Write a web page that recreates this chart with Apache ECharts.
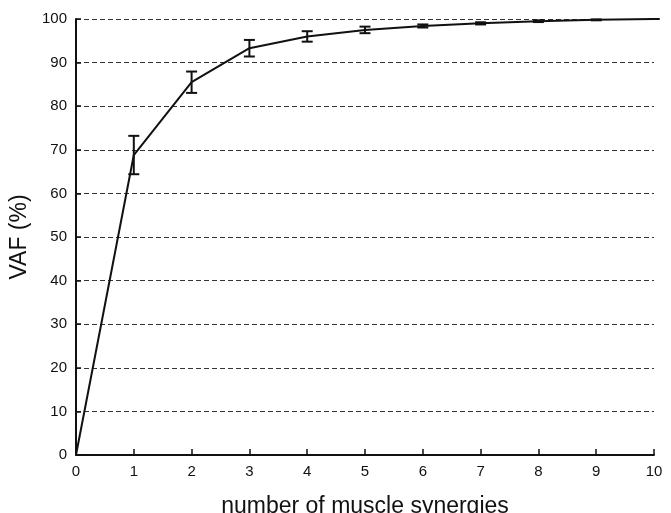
<!DOCTYPE html>
<html>
<head>
<meta charset="utf-8">
<script src="https://cdn.jsdelivr.net/npm/echarts@6/dist/echarts.min.js"></script>
<style>
  html, body { margin: 0; padding: 0; background: #fff; }
  #chart { width: 671px; height: 513px; }
</style>
</head>
<body>
<div id="chart"></div>
<script>
// Number of synergies vs. mean variance accounted for, with standard deviation
const synergies = [0, 1, 2, 3, 4, 5, 6, 7, 8, 9, 10];
const vafMean = [0, 68.8, 85.5, 93.3, 96.0, 97.5, 98.4, 99.0, 99.5, 99.8, 100];
const vafSd = [0, 4.4, 2.45, 1.9, 1.2, 0.75, 0.35, 0.25, 0.2, 0.1, 0];

const FONT = '"Liberation Sans", Arial, Helvetica, sans-serif';

const lineData = synergies.map((x, i) => [x, vafMean[i]]);
const errData = synergies.slice(1).map((x, k) => {
  const i = k + 1;
  return [x, vafMean[i] - vafSd[i], vafMean[i] + vafSd[i]];
});

const chart = echarts.init(document.getElementById('chart'), null, { renderer: 'canvas' });
chart.setOption({
  animation: false,
  backgroundColor: '#fff',
  grid: { left: 76, right: 17, top: 19, bottom: 58, containLabel: false, outerBoundsMode: 'none' },
  xAxis: {
    type: 'value', min: 0, max: 10, interval: 1,
    name: 'number of muscle synergies', nameLocation: 'middle', nameGap: 40,
    nameTextStyle: { fontFamily: FONT, fontSize: 23, color: '#111' },
    axisLine: { lineStyle: { color: '#111', width: 2 } },
    axisTick: { inside: true, length: 6, lineStyle: { color: '#111', width: 1.5 } },
    axisLabel: { fontFamily: FONT, fontSize: 15, color: '#111', margin: 9 },
    splitLine: { show: false }
  },
  yAxis: {
    type: 'value', min: 0, max: 100, interval: 10,
    name: 'VAF (%)', nameLocation: 'middle', nameGap: 43,
    nameTextStyle: { fontFamily: FONT, fontSize: 23, color: '#111' },
    axisLine: { show: true, lineStyle: { color: '#111', width: 2 } },
    axisTick: { show: true, inside: true, length: 5, lineStyle: { color: '#111', width: 1.5 } },
    axisLabel: { fontFamily: FONT, fontSize: 15, color: '#111', margin: 9 },
    splitLine: { show: true, lineStyle: { color: '#333', width: 1, type: [5, 3] } }
  },
  series: [
    {
      type: 'line', data: lineData, symbol: 'none',
      lineStyle: { color: '#111', width: 2 }, z: 3
    },
    {
      type: 'custom', data: errData, z: 4,
      renderItem: function (params, api) {
        const x = api.value(0);
        const lo = api.coord([x, api.value(1)]);
        const hi = api.coord([x, api.value(2)]);
        const hw = 5.5;
        const style = { stroke: '#111', lineWidth: 2 };
        return {
          type: 'group',
          children: [
            { type: 'line', shape: { x1: lo[0], y1: lo[1], x2: hi[0], y2: hi[1] }, style },
            { type: 'line', shape: { x1: lo[0] - hw, y1: lo[1], x2: lo[0] + hw, y2: lo[1] }, style },
            { type: 'line', shape: { x1: hi[0] - hw, y1: hi[1], x2: hi[0] + hw, y2: hi[1] }, style }
          ]
        };
      }
    }
  ]
});
</script>
</body>
</html>
